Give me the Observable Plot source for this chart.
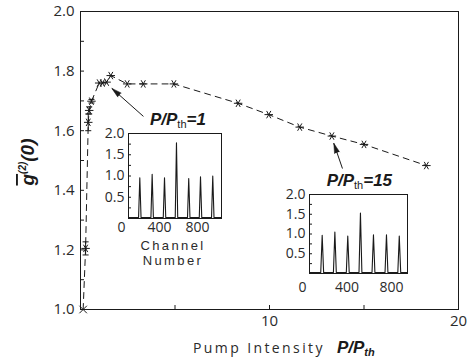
<!DOCTYPE html>
<html><head><meta charset="utf-8">
<script src="https://cdn.jsdelivr.net/npm/d3@7"></script>
<script src="https://cdn.jsdelivr.net/npm/@observablehq/plot@0.6"></script>
<style>
body{margin:0;background:#fff;}
#chart{position:relative;width:468px;height:362px;}
#chart svg{position:absolute;left:0;top:0;}
</style></head><body><div id="chart"></div>
<script>
// Main series: pump intensity P/Pth vs g2(0)
const pumpIntensity = [0.14, 0.27, 0.41, 0.46, 0.58, 0.99, 1.16, 1.38, 1.60, 2.47, 3.32, 4.94, 8.34, 9.96, 11.6, 13.3, 15.0, 18.3];
const g2Values      = [1.00, 1.205, 1.628, 1.668, 1.699, 1.760, 1.760, 1.763, 1.785, 1.757, 1.757, 1.757, 1.692, 1.654, 1.612, 1.582, 1.554, 1.483];
const g2Errors      = [0, 0.022, 0.028, 0.012, 0.006, 0, 0, 0, 0, 0, 0, 0, 0, 0, 0, 0, 0, 0];
const yMajorTicks = [1.0, 1.2, 1.4, 1.6, 1.8, 2.0];
const yMinorTicks = [1.1, 1.3, 1.5, 1.7, 1.9];
const xTickLabels = [10, 20];
const xTickMarks = [5, 10, 15];

// Insets: peak channel positions and heights
const inset1Channels = [193, 323, 453, 579, 708, 832, 961];
const inset1Heights  = [0.96, 1.04, 0.96, 1.78, 0.94, 0.98, 1.00];
const inset2Channels = [177, 291, 407, 521, 638, 755, 870];
const inset2Heights  = [0.97, 1.05, 0.95, 1.53, 0.98, 0.98, 0.95];
const insetYLabels = [0.5, 1.0, 1.5, 2.0];
const insetYTicks = [0.25, 0.5, 0.75, 1.0, 1.25, 1.5, 1.75];
const insetXLabels = [0, 400, 800];

// Annotations
const annotations = [
  {label: "1", x: 3.7, y: 1.638, ax1: 3.33, ay1: 1.648, ax2: 1.66, ay2: 1.742, rot: -49},
  {label: "15", x: 13.05, y: 1.433, ax1: 13.86, ay1: 1.473, ax2: 13.40, ay2: 1.558, rot: -19}
];

const ink = "#1a1a1a";
const textInk = "#2b2b2b";
const font = "'Open Sans', 'Noto Sans', sans-serif";

const data = pumpIntensity.map((x, i) => ({x, y: g2Values[i], e: g2Errors[i], i}));
const errData = data.filter(d => d.e > 0);

const main = Plot.plot({
  width: 468, height: 362,
  marginLeft: 80, marginRight: 10, marginTop: 11, marginBottom: 53,
  x: {domain: [0, 20]},
  y: {domain: [1, 2]},
  style: {fontFamily: font, fontSize: "15px", color: textInk, background: "white"},
  marks: [
    Plot.frame({stroke: ink, strokeWidth: 1}),
    Plot.axisY(yMajorTicks.concat(yMinorTicks), {tickSize: -4, tickFormat: () => "", label: null, stroke: ink}),
    Plot.axisY(yMajorTicks, {tickSize: 0, tickPadding: 6, tickFormat: d3.format(".1f"), label: null, fill: textInk, fontSize: 15}),
    Plot.axisX(xTickMarks, {tickSize: -4, tickFormat: () => "", label: null, stroke: ink}),
    Plot.axisX(xTickLabels, {tickSize: 0, tickPadding: 6, label: null, fill: textInk, fontSize: 15}),
    Plot.line(data, {x: "x", y: "y", stroke: ink, strokeWidth: 1, strokeDasharray: "6,5"}),
    Plot.ruleX(errData, {x: "x", y1: d => d.y - d.e, y2: d => d.y + d.e, stroke: ink, strokeWidth: 1}),
    Plot.link(errData, {x1: d => d.x - 0.16, x2: d => d.x + 0.16, y1: d => d.y - d.e, y2: d => d.y - d.e, stroke: ink}),
    Plot.link(errData, {x1: d => d.x - 0.16, x2: d => d.x + 0.16, y1: d => d.y + d.e, y2: d => d.y + d.e, stroke: ink}),
    Plot.dot(data.filter(d => d.i > 0), {x: "x", y: "y", symbol: "asterisk", r: 4, rotate: 90, stroke: ink, strokeWidth: 1}),
    Plot.dot(data.filter(d => d.i === 0), {x: "x", y: "y", symbol: "times", r: 3.5, stroke: ink, strokeWidth: 1}),
    Plot.link(annotations, {x1: "ax1", y1: "ay1", x2: "ax2", y2: "ay2", stroke: ink, strokeWidth: 1}),
    Plot.vector(annotations, {x: "ax2", y: "ay2", rotate: "rot", length: 10, r: 2.6, shape: "spike", anchor: "end", fill: ink, stroke: ink, strokeWidth: 0.5})
  ]
});
document.getElementById("chart").appendChild(main);

const xs = main.scale("x"), ys = main.scale("y");
const svg = d3.select(main);

// annotation labels
annotations.forEach(a => {
  const t = svg.append("text").attr("x", xs.apply(a.x)).attr("y", ys.apply(a.y)).attr("dy", "0.35em")
    .attr("text-anchor", "start")
    .attr("fill", ink).style("font-family", "'Liberation Sans', Arial, sans-serif")
    .style("font-size", "17px").style("font-weight", "bold").style("font-style", "italic");
  t.append("tspan").text("P/P");
  t.append("tspan").attr("dy", 3).style("font-size", "11px").style("font-weight", "normal").style("font-style", "normal").text("th");
  t.append("tspan").attr("dy", -3).text("=" + a.label);
});

// x-axis title
const xt = svg.append("text").attr("x", 193).attr("y", 353).attr("text-anchor", "start").attr("fill", textInk)
  .style("font-family", font).style("font-size", "14px");
xt.append("tspan").style("letter-spacing", "2.4px").text("Pump Intensity");
xt.append("tspan").attr("dx", 12).style("font-family", "'Liberation Sans', Arial, sans-serif")
  .style("font-weight", "bold").style("font-style", "italic").style("font-size", "17px").attr("fill", ink).text("P/P");
xt.append("tspan").attr("dy", 3).style("font-family", "'Liberation Sans', Arial, sans-serif")
  .style("font-weight", "bold").style("font-style", "italic").style("font-size", "11px").attr("fill", ink).text("th");

// y-axis title
const yt = svg.append("text").attr("transform", "translate(34,162) rotate(-90)").attr("text-anchor", "middle")
  .attr("fill", ink).style("font-family", "'Liberation Sans', Arial, sans-serif")
  .style("font-size", "19px").style("font-weight", "bold").style("font-style", "italic");
yt.append("tspan").style("text-decoration", "overline").text("g");
yt.append("tspan").attr("dy", -8).style("font-size", "10px").text("(2)");
yt.append("tspan").attr("dy", 8).text("(0)");

function trace(channels, heights, lo, hi, base, hw) {
  const pts = [{c: lo, v: base}];
  channels.forEach((c, i) => {
    pts.push({c: c - hw, v: base}, {c, v: heights[i]}, {c: c + hw, v: base});
  });
  pts.push({c: hi, v: base});
  return pts;
}

function inset({channels, heights, domain, width, height, ml, mt, mr, mb, xPad, left, top}) {
  const p = Plot.plot({
    width, height, marginLeft: ml, marginTop: mt, marginRight: mr, marginBottom: mb,
    x: {domain}, y: {domain: [0, 2]},
    style: {fontFamily: font, fontSize: "14px", color: textInk, background: "none", overflow: "visible"},
    marks: [
      Plot.frame({stroke: ink, strokeWidth: 1}),
      Plot.axisY(insetYTicks, {tickSize: -3, tickFormat: () => "", label: null, stroke: ink}),
      Plot.axisY(insetYLabels, {tickSize: 0, tickPadding: 4, tickFormat: d3.format(".1f"), label: null, fill: textInk, fontSize: 14}),
      Plot.axisX(insetXLabels, {tickSize: 0, tickPadding: xPad, label: null, fill: textInk, fontSize: 14}),
      Plot.line(trace(channels, heights, domain[0], domain[1], 0.025, 13), {x: "c", y: "v", stroke: ink, strokeWidth: 1.1})
    ]
  });
  p.style.left = left + "px";
  p.style.top = top + "px";
  document.getElementById("chart").appendChild(p);
  return p;
}

const in1 = inset({channels: inset1Channels, heights: inset1Heights, domain: [74, 1053],
  width: 140, height: 150, ml: 40, mt: 8, mr: 7, mb: 57, xPad: 4, left: 88, top: 125});
const t1 = d3.select(in1).append("g").attr("fill", textInk).style("font-family", "'Liberation Sans', Arial, sans-serif")
  .style("font-size", "13px").style("letter-spacing", "2.4px").attr("text-anchor", "middle");
t1.append("text").attr("x", 85).attr("y", 125).text("Channel");
t1.append("text").attr("x", 85).attr("y", 140).text("Number");

inset({channels: inset2Channels, heights: inset2Heights, domain: [63, 944],
  width: 145, height: 120, ml: 39, mt: 8, mr: 8, mb: 33, xPad: 9, left: 270, top: 186});
</script></body></html>
